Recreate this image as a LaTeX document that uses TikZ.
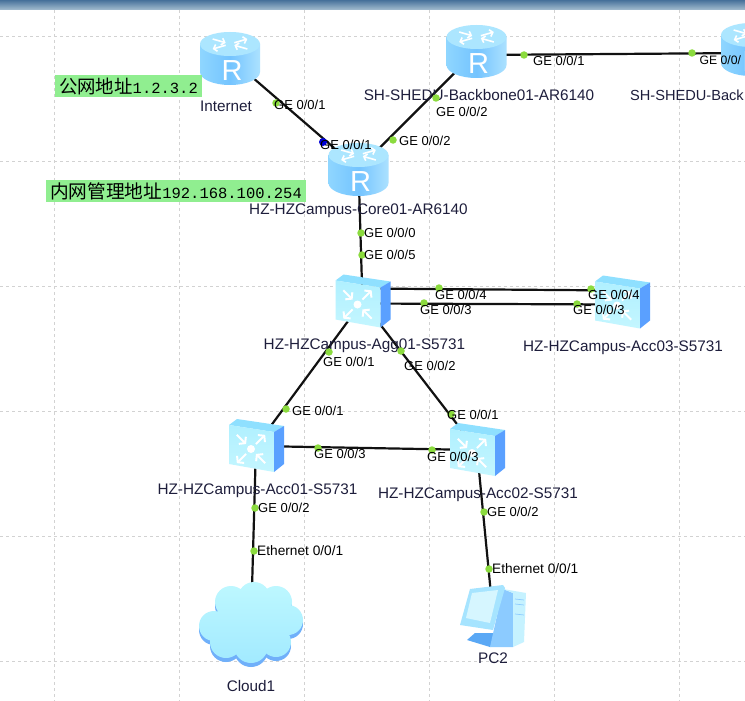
\documentclass[tikz,border=0pt]{standalone}
\usepackage{fontspec}
\setmainfont{Liberation Sans}
\setmonofont{Liberation Mono}
\newfontfamily\cjk{Noto Sans CJK SC}
\usetikzlibrary{arrows.meta}
\definecolor{gridgray}{HTML}{D2D2D2}
\definecolor{portgreen}{HTML}{8BDB3E}
\definecolor{addrgreen}{HTML}{90EE90}
\definecolor{labelink}{HTML}{1E1E3C}
\definecolor{linkblack}{HTML}{111111}
\definecolor{barTop}{HTML}{46709A}
\definecolor{barBottom}{HTML}{A5BED0}
\definecolor{routerLeft}{HTML}{8FD6FF}
\definecolor{routerMid}{HTML}{74C4FF}
\definecolor{routerRight}{HTML}{ACE2FF}
\definecolor{routerTop}{HTML}{ACE6FF}
\definecolor{switchTop}{HTML}{8FE0FF}
\definecolor{switchFrontA}{HTML}{B0F0FF}
\definecolor{switchFrontB}{HTML}{C4F6FF}
\definecolor{switchSide}{HTML}{5AA0FF}
\definecolor{cloudShadow}{HTML}{70B0FA}
\definecolor{cloudA}{HTML}{BEF8FF}
\definecolor{cloudB}{HTML}{A2EAFF}
\definecolor{pcStand}{HTML}{5AA8F5}
\definecolor{pcSide}{HTML}{8CCBFF}
\definecolor{pcFront}{HTML}{C6F2FF}
\definecolor{pcFrame}{HTML}{A6E4FF}
\definecolor{pcScreen}{HTML}{D6F6FF}
\begin{document}
\begin{tikzpicture}[
				 x=1pt, y=-1pt,
				 devicenode/.style={circle, inner sep=0pt, minimum size=4pt},
				 portdot/.style={circle, fill=portgreen, inner sep=0pt, minimum size=7.5pt},
				 portdotblue/.style={circle, fill=blue!85!black, inner sep=0pt, minimum size=8pt},
				 portlabel/.style={anchor=west, inner sep=0pt, font=\fontsize{13}{13}\selectfont},
				 ethlabel/.style={anchor=west, inner sep=0pt, font=\fontsize{13.7}{13.7}\selectfont},
				 devicelabel/.style={inner sep=0pt, text=labelink, font=\fontsize{15.3}{15.3}\selectfont},
				 addrnode/.style={rectangle, fill=addrgreen, inner sep=0pt, minimum height=22pt},
				 link/.style={draw=linkblack, line width=2.2pt},
				 gridline/.style={draw=gridgray, dashed, line width=0.6pt},
				 routericon/.pic={
					\shade[left color=routerLeft, right color=routerRight, middle color=routerMid]
						(-30,-14) -- (-30,14) arc[start angle=180, end angle=360, x radius=30pt, y radius=13pt] -- (30,-14) -- cycle;
					\fill[routerTop] (0,-14) circle[x radius=30pt, y radius=12pt];
					\foreach \ang/\ra/\rb in {30/5/20, 150/20/5, 210/5/20, 330/20/5}
						\draw[white, line width=1.6pt, -{Straight Barb[length=3pt, width=7pt]}, shift={(0,-14)}, yscale=0.5, rotate=\ang] (\ra,0) -- (\rb,0);
					\node[inner sep=0pt, text=white, font=\fontsize{29}{29}\selectfont] (-letter) at (2,13) {R};
				 },
				 switchicon/.pic={
					\fill[switchTop] (-27,-21) -- (-19,-27) -- (28,-20) -- (18,-14) -- cycle;
					\shade[top color=switchFrontA, bottom color=switchFrontB] (-27,-21) -- (18,-14) -- (18,26) -- (-27,18) -- cycle;
					\fill[switchSide] (18,-14) -- (28,-20) -- (28,18) -- (18,26) -- cycle;
					\foreach \ang/\ra/\rb in {45/7/20, 135/20/7, 225/7/20, 315/20/7}
						\draw[white, line width=2pt, -{Straight Barb[length=4pt, width=10pt]}, shift={(-5,3)}, rotate=\ang] (\ra,0) -- (\rb,0);
					\fill[white] (-5,3) circle[radius=4pt];
				 },
				 cloudicon/.pic={
					\fill[cloudShadow]
						(-20,-18) circle[radius=16pt] (3,-22) circle[radius=16pt] (25,-18) circle[radius=16pt]
						(-37,6) circle[radius=15pt] (37,0) circle[radius=15pt] (-25,22) circle[radius=16pt]
						(0,26) circle[radius=17pt] (25,22) circle[radius=15pt] (0,4) circle[radius=30pt];
					\shade[top color=cloudA, bottom color=cloudB]
						(-20,-22) circle[radius=16pt] (3,-26) circle[radius=16pt] (25,-22) circle[radius=16pt]
						(-37,2) circle[radius=15pt] (37,-4) circle[radius=15pt] (-25,18) circle[radius=16pt]
						(0,22) circle[radius=17pt] (25,18) circle[radius=15pt] (0,0) circle[radius=30pt];
				 },
				 pcicon/.pic={
					\fill[pcStand] (-18,18) -- (-26,25) -- (-3,32) -- (5,18) -- cycle;
					\fill[pcSide] (10,-26) -- (20,-22) -- (20,32) -- (-3,32) -- cycle;
					\fill[pcFront] (10,-26) -- (33,-22) -- (31,27) -- (20,32) -- (20,-22) -- cycle;
					\draw[pcSide, line width=0.7pt] (22,-16) -- (31,-15) (22,-11) -- (31,-10) (22,-1) -- (31,0);
					\fill[pcFrame] (-23,-26) -- (10,-30) -- (12,-27) -- (0,15) -- (-33,10) -- cycle;
					\fill[pcScreen] (-21,-22) -- (5,-25) -- (-3,8) -- (-27,3) -- cycle;
				 },
				 ]
				 \clip (0,0) rectangle (745,701);

				 % Grid
				 \fill[white] (0,0) rectangle (745,701);
				 \foreach \gx in {54.5,179.5,304.5,429.5,554.5,679.5}
					\draw[gridline] (\gx,10) -- (\gx,701);
				 \foreach \gy in {36,161,286,411,536,661}
					\draw[gridline] (0,\gy) -- (745,\gy);
				 \shade[top color=barTop, bottom color=barBottom] (0,0) rectangle (745,10);

				 % Nodes
				 \node[devicenode]		(router_internet)		at (230, 58)		{};
				 \node[devicenode]		(router_core)			at (358.5, 169)		{};
				 \node[devicenode]		(router_backbone01)		at (476.5, 51)		{};
				 \node[devicenode]		(router_backbone02)		at (751, 49)		{};
				 \node[devicenode]		(switch_agg)			at (362.5, 301.5)	{};
				 \node[devicenode]		(switch_acc03)			at (622, 302.5)		{};
				 \node[devicenode]		(switch_acc01)			at (256, 446)		{};
				 \node[devicenode]		(switch_acc02)			at (477, 450)		{};
				 \node[devicenode]		(cloud_one)				at (251, 624)		{};
				 \node[devicenode]		(pc_two)				at (493, 615)		{};

				 % Lines
				 \draw[link] (router_internet.center)	--	(router_core.center);
				 \draw[link] (router_backbone01.center)	--	(router_core.center);
				 \draw[link] ([yshift=-4pt]router_backbone01.center)	--	([yshift=-4pt]router_backbone02.center);
				 \draw[link] (router_core.center)		--	(switch_agg.center);
				 \draw[link] ([yshift=13pt]switch_agg.center)	--	([yshift=12pt]switch_acc03.center);
				 \draw[link] ([yshift=-2pt]switch_agg.center)	--	([yshift=-2pt]switch_acc03.center);
				 \draw[link] (switch_agg.center)		--	(switch_acc01.center);
				 \draw[link] (switch_agg.center)		--	(switch_acc02.center);
				 \draw[link] (switch_acc01.center)		--	(switch_acc02.center);
				 \draw[link] (switch_acc01.center)		--	(cloud_one.center);
				 \draw[link] (switch_acc02.center)		--	(pc_two.center);

				 % Icons
				 \pic (icon_internet)	at (router_internet)	{routericon};
				 \pic (icon_core)		at (router_core)		{routericon};
				 \pic (icon_backbone01)	at (router_backbone01)	{routericon};
				 \pic (icon_backbone02)	at (router_backbone02)	{routericon};
				 \pic (icon_agg)		at (switch_agg)			{switchicon};
				 \pic (icon_acc03)		at (switch_acc03)		{switchicon};
				 \pic (icon_acc01)		at (switch_acc01)		{switchicon};
				 \pic (icon_acc02)		at (switch_acc02)		{switchicon};
				 \pic (icon_cloud)		at (cloud_one)			{cloudicon};
				 \pic (icon_pc)			at (pc_two)				{pcicon};

				 % Address boxes
				 \node[addrnode, minimum width=147pt]	(addr_public)	at (128.5, 86)	{{\cjk\fontsize{18.4}{18.4}\selectfont 公网地址}{\ttfamily\fontsize{15.5}{15.5}\selectfont 1.2.3.2}};
				 \node[addrnode, minimum width=260pt]	(addr_private)	at (176, 191)	{{\cjk\fontsize{18.7}{18.7}\selectfont 内网管理地址}{\ttfamily\fontsize{15.5}{15.5}\selectfont 192.168.100.254}};

				 % Device labels
				 \node[devicelabel]	(name_internet)		at (226, 106)	{Internet};
				 \node[devicelabel]	(name_backbone01)	at (479, 95)	{SH-SHEDU-Backbone01-AR6140};
				 \node[devicelabel, anchor=west, font=\fontsize{14.6}{14.6}\selectfont]	(name_backbone02)	at (630, 95)	{SH-SHEDU-Back};
				 \node[devicelabel]	(name_core)			at (358.5, 211)	{HZ-HZCampus-Core01-AR6140};
				 \node[devicelabel]	(name_agg)			at (364.5, 346)	{HZ-HZCampus-Agg01-S5731};
				 \node[devicelabel]	(name_acc03)		at (623, 348)	{HZ-HZCampus-Acc03-S5731};
				 \node[devicelabel]	(name_acc01)		at (257.5, 491)	{HZ-HZCampus-Acc01-S5731};
				 \node[devicelabel]	(name_acc02)		at (478, 495)	{HZ-HZCampus-Acc02-S5731};
				 \node[devicelabel]	(name_cloud)		at (251, 686)	{Cloud1};
				 \node[devicelabel]	(name_pc)			at (493, 658)	{PC2};

				 % Ports
				 \node[portdot]		(dot_inet_a)	at (276, 103)	{};
				 \node[portdotblue]	(dot_inet_b)	at (323, 142)	{};
				 \node[portdot]		(dot_core_c)	at (393, 140)	{};
				 \node[portdot]		(dot_bb_a)		at (436, 98)	{};
				 \node[portdot]		(dot_bb_b)		at (524, 55)	{};
				 \node[portdot]		(dot_bb_c)		at (692, 53)	{};
				 \node[portdot]		(dot_core_d)	at (361, 233)	{};
				 \node[portdot]		(dot_agg_a)		at (362, 255)	{};
				 \node[portdot]		(dot_agg_b)		at (439, 288)	{};
				 \node[portdot]		(dot_acc3_a)	at (591, 289)	{};
				 \node[portdot]		(dot_agg_c)		at (424, 303)	{};
				 \node[portdot]		(dot_acc3_b)	at (577, 304)	{};
				 \node[portdot]		(dot_agg_d)		at (329, 352)	{};
				 \node[portdot]		(dot_acc1_a)	at (286, 409)	{};
				 \node[portdot]		(dot_agg_e)		at (401, 351)	{};
				 \node[portdot]		(dot_acc2_a)	at (451, 414)	{};
				 \node[portdot]		(dot_acc1_b)	at (318, 448)	{};
				 \node[portdot]		(dot_acc2_b)	at (432, 450)	{};
				 \node[portdot]		(dot_acc1_c)	at (255, 508)	{};
				 \node[portdot]		(dot_cloud)		at (254, 551)	{};
				 \node[portdot]		(dot_acc2_c)	at (484, 512)	{};
				 \node[portdot]		(dot_pc)		at (489, 569)	{};

				 \node[portlabel]	(ge_inet_a)		at (274, 105)	{GE 0/0/1};
				 \node[portlabel]	(ge_inet_b)		at (320, 145)	{GE 0/0/1};
				 \node[portlabel]	(ge_core_c)		at (399, 141)	{GE 0/0/2};
				 \node[portlabel]	(ge_bb_a)		at (436, 112)	{GE 0/0/2};
				 \node[portlabel]	(ge_bb_b)		at (533, 61)	{GE 0/0/1};
				 \node[portlabel, font=\fontsize{12.2}{12.2}\selectfont]	(ge_bb_c)		at (699.5, 60)	{GE 0/0/};
				 \node[portlabel]	(ge_core_d)		at (364, 233)	{GE 0/0/0};
				 \node[portlabel]	(ge_agg_a)		at (364, 255)	{GE 0/0/5};
				 \node[portlabel]	(ge_agg_b)		at (435, 295)	{GE 0/0/4};
				 \node[portlabel]	(ge_acc3_a)		at (588, 295)	{GE 0/0/4};
				 \node[portlabel]	(ge_agg_c)		at (420, 310)	{GE 0/0/3};
				 \node[portlabel]	(ge_acc3_b)		at (573, 310)	{GE 0/0/3};
				 \node[portlabel]	(ge_agg_d)		at (323, 362)	{GE 0/0/1};
				 \node[portlabel]	(ge_acc1_a)		at (292, 411)	{GE 0/0/1};
				 \node[portlabel]	(ge_agg_e)		at (404, 366)	{GE 0/0/2};
				 \node[portlabel]	(ge_acc2_a)		at (447, 415)	{GE 0/0/1};
				 \node[portlabel]	(ge_acc1_b)		at (314, 454)	{GE 0/0/3};
				 \node[portlabel]	(ge_acc2_b)		at (427, 457)	{GE 0/0/3};
				 \node[portlabel]	(ge_acc1_c)		at (258, 508)	{GE 0/0/2};
				 \node[ethlabel]	(eth_cloud)		at (257, 551)	{Ethernet 0/0/1};
				 \node[portlabel]	(ge_acc2_c)		at (487, 512)	{GE 0/0/2};
				 \node[ethlabel]	(eth_pc)		at (492, 569)	{Ethernet 0/0/1};
\end{tikzpicture}
\end{document}
